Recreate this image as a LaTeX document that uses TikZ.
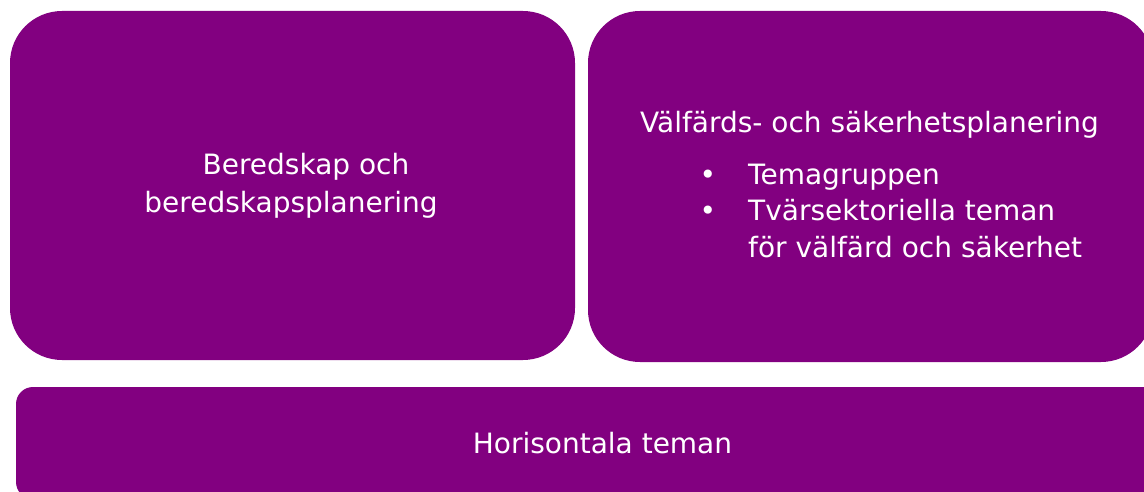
\documentclass[tikz,border=0pt]{standalone}
\usepackage{fontspec}
\setmainfont{DejaVu Sans}
\definecolor{boxpurple}{RGB}{130,0,128}
\tikzset{
  bigbox/.style={fill=boxpurple, draw=none, rounded corners=52pt, inner sep=0pt},
  barbox/.style={fill=boxpurple, draw=none, rounded corners=17pt, inner sep=0pt},
  lbl/.style={text=white, font=\fontsize{28}{33}\selectfont, inner sep=0pt, anchor=base},
  lbll/.style={lbl, anchor=base west},
}
\begin{document}
\begin{tikzpicture}[x=1pt,y=-1pt]
\useasboundingbox (0,0) rectangle (1144,492);
\clip (0,0) rectangle (1144,492);
\node[bigbox, minimum width=565pt, minimum height=349pt] (left) at (292.5,185.5) {};
\node[bigbox, minimum width=565pt, minimum height=351pt] (right) at (870.5,186.5) {};
\node[barbox, minimum width=1190pt, minimum height=112pt] (bottom) at (611,443) {};
% left text
\node[lbl] (l1) at (306,175) {Beredskap och};
\node[lbl] (l2) at (291,212) {beredskapsplanering};
% right text
\node[lbl] (r0) at (869.5,133) {Välfärds- och säkerhetsplanering};
\node[lbl] (b1) at (708,185) {•};
\node[lbll] (r1) at (748,185) {Temagruppen};
\node[lbl] (b2) at (708,220) {•};
\node[lbll] (r2) at (748,220) {Tvärsektoriella teman};
\node[lbll] (r3) at (748,257) {för välfärd och säkerhet};
% bottom text
\node[lbl] (h) at (602.5,453) {Horisontala teman};
\end{tikzpicture}
\end{document}
